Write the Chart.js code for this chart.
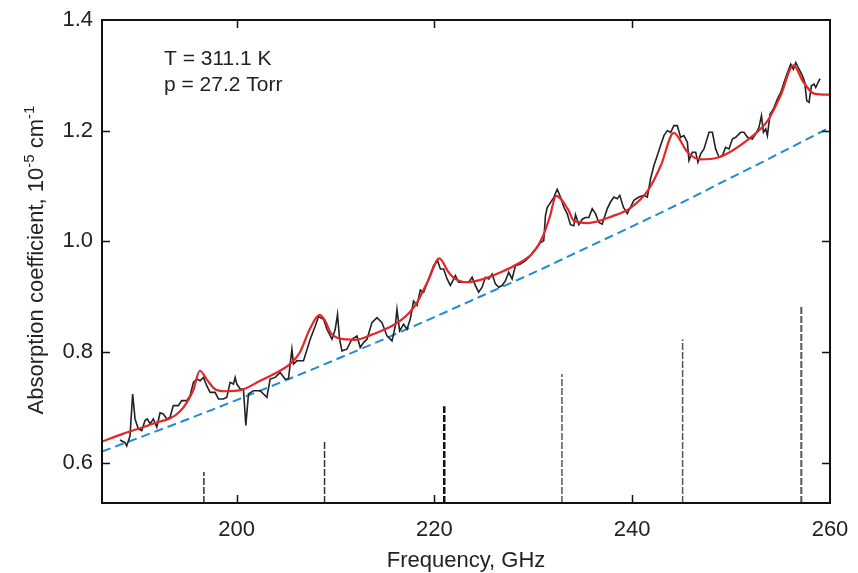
<!DOCTYPE html>
<html>
<head>
<meta charset="utf-8">
<script src="https://cdn.jsdelivr.net/npm/chart.js@4"></script>
<style>
  html, body { margin: 0; padding: 0; background: #fff; }
  #wrap { width: 858px; height: 573px; }
</style>
</head>
<body>
<div id="wrap"><canvas id="chart"></canvas></div>
<script>
// measured spectrum (black)
const measFreq = [188.22,188.73,188.90,189.23,189.50,189.74,190.07,190.42,190.75,190.98,
  191.26,191.59,191.94,192.27,192.60,192.95,193.28,193.61,194.12,194.46,
  194.97,195.30,195.64,195.98,196.32,196.65,196.99,197.33,197.83,198.17,
  198.68,199.02,199.35,199.69,199.86,200.03,200.37,200.70,200.94,201.21,
  201.71,202.39,203.07,203.40,203.91,204.41,204.91,205.25,205.60,205.76,
  206.10,206.77,207.45,207.96,208.29,208.80,209.14,209.65,209.98,210.21,
  210.42,210.66,211.16,211.67,212.18,212.51,212.84,213.19,213.69,214.20,
  214.71,215.21,215.72,216.05,216.22,216.49,216.89,217.24,217.57,217.90,
  218.25,218.58,218.92,219.42,219.93,220.33,220.61,220.94,221.29,221.62,
  222.13,222.46,222.97,223.47,223.82,224.15,224.48,224.83,225.16,225.50,
  225.84,226.17,226.51,226.85,227.19,227.52,227.86,228.20,228.70,229.21,
  229.72,230.05,230.39,230.73,231.06,231.23,231.41,231.74,232.07,232.42,
  232.75,233.09,233.43,233.76,234.10,234.27,234.61,234.95,235.28,235.62,
  235.96,236.29,236.63,236.97,237.48,237.81,238.15,238.49,238.75,239.10,
  239.50,239.84,240.17,240.68,241.18,241.53,241.86,242.20,242.54,242.87,
  243.21,243.55,243.89,244.22,244.56,244.90,245.23,245.58,245.74,246.08,
  246.42,246.65,246.92,247.26,247.77,248.11,248.44,248.78,249.12,249.45,
  249.79,250.13,250.47,250.97,251.30,251.65,252.15,252.49,252.82,253.07,
  253.27,253.50,253.67,253.94,254.18,254.41,254.68,255.02,255.35,255.70,
  256.03,256.30,256.54,256.87,257.22,257.45,257.65,257.88,258.12,258.39,
  258.56,258.79,258.99];
const measAbs = [0.641,0.636,0.630,0.648,0.724,0.679,0.661,0.658,0.676,0.679,
  0.670,0.679,0.664,0.690,0.688,0.679,0.682,0.703,0.703,0.712,
  0.712,0.721,0.745,0.751,0.748,0.754,0.739,0.727,0.727,0.715,
  0.715,0.718,0.745,0.742,0.754,0.742,0.733,0.733,0.667,0.724,
  0.730,0.730,0.718,0.751,0.754,0.763,0.751,0.751,0.805,0.778,
  0.784,0.784,0.823,0.847,0.864,0.859,0.841,0.823,0.841,0.868,
  0.823,0.802,0.805,0.823,0.829,0.808,0.817,0.823,0.853,0.862,
  0.853,0.829,0.820,0.847,0.877,0.838,0.850,0.841,0.860,0.892,
  0.884,0.912,0.908,0.932,0.956,0.965,0.950,0.950,0.932,0.920,
  0.938,0.926,0.926,0.926,0.935,0.920,0.908,0.917,0.935,0.932,
  0.941,0.923,0.917,0.920,0.929,0.944,0.932,0.956,0.959,0.965,
  0.974,0.983,0.989,0.998,1.001,1.046,1.061,1.070,1.079,1.094,
  1.080,1.062,1.050,1.030,1.028,1.048,1.030,1.040,1.043,1.043,
  1.059,1.050,1.034,1.031,1.059,1.071,1.080,1.077,1.083,1.062,
  1.050,1.062,1.074,1.080,1.083,1.080,1.113,1.137,1.155,1.173,
  1.191,1.200,1.197,1.209,1.209,1.188,1.191,1.179,1.146,1.161,
  1.161,1.143,1.158,1.167,1.197,1.197,1.167,1.152,1.155,1.170,
  1.167,1.185,1.188,1.197,1.197,1.188,1.185,1.194,1.206,1.227,
  1.197,1.203,1.191,1.230,1.236,1.245,1.257,1.269,1.287,1.305,
  1.320,1.311,1.323,1.311,1.299,1.287,1.254,1.251,1.281,1.284,
  1.278,1.287,1.294];

// model fit (red)
const fitFreq = [186.4,188.5,191.3,194.3,195.6,196.3,197.0,197.8,198.8,200.4,202.4,204.4,205.4,206.4,207.4,208.4,
  209.0,209.5,210.5,212.0,213.5,216.6,218.1,219.4,220.5,221.4,222.1,223.3,225.0,226.7,228.4,230.0,231.0,231.7,
  232.3,233.5,234.1,235.5,238.1,239.8,241.6,242.9,244.2,245.6,246.9,248.6,252.0,253.7,255.0,256.3,257.3,258.4,260.0];
const fitAbs = [0.638,0.652,0.669,0.693,0.730,0.766,0.750,0.733,0.729,0.731,0.748,0.766,0.778,0.799,0.841,0.867,
  0.855,0.835,0.824,0.822,0.830,0.857,0.885,0.930,0.969,0.945,0.932,0.926,0.932,0.944,0.959,0.980,1.010,1.046,
  1.082,1.058,1.037,1.033,1.046,1.060,1.092,1.137,1.196,1.161,1.148,1.151,1.188,1.218,1.263,1.318,1.288,1.267,1.265];

// continuum (blue dashed)
const contFreq = [186.4,190,195,200,205,210,215,220,225,230,235,240,245,250,255,260];
const contAbs = [0.620,0.644,0.678,0.713,0.749,0.786,0.824,0.863,0.903,0.943,0.985,1.027,1.070,1.115,1.160,1.206];

// line positions (sticks)
const lineFreq = [196.7,208.9,221.0,232.9,245.1,257.1];
const lineTop = [0.583,0.641,0.702,0.760,0.823,0.883];
const lineColor = ['#333','#333','#111','#555','#555','#555'];
const lineWidth = [1.5,1.5,2.5,1.5,1.5,2];

const xTicks = [200,220,240,260];
const yTicks = [0.6,0.8,1.0,1.2,1.4];
const xMin = 186.4, xMax = 260, yMin = 0.527, yMax = 1.4;

const FONT = "'Liberation Sans', Arial, sans-serif";

const toXY = (xs, ys) => xs.map((x, i) => ({ x: x, y: ys[i] }));

const datasets = [];
lineFreq.forEach((f, i) => {
    datasets.push({
        data: [{ x: f, y: yMin }, { x: f, y: lineTop[i] }],
        borderColor: lineColor[i],
        borderWidth: lineWidth[i],
        borderDash: [7, 2],
        pointRadius: 0,
        order: 4
    });
});
datasets.push({
    data: toXY(contFreq, contAbs),
    borderColor: '#1e8bd2',
    borderWidth: 2,
    borderDash: [9, 5],
    pointRadius: 0,
    cubicInterpolationMode: 'monotone',
    order: 3
});
datasets.push({
    data: toXY(measFreq, measAbs),
    borderColor: '#222',
    borderWidth: 1.6,
    pointRadius: 0,
    tension: 0,
    order: 2
});
datasets.push({
    data: toXY(fitFreq, fitAbs),
    borderColor: '#e4262b',
    borderWidth: 2.2,
    pointRadius: 0,
    cubicInterpolationMode: 'monotone',
    order: 1
});

// frame, inward ticks, titles and annotation
const framePlugin = {
    id: 'frame',
    afterDraw(chart) {
        const ctx = chart.ctx;
        const a = chart.chartArea;
        const xs = chart.scales.x, ys = chart.scales.y;
        ctx.save();
        ctx.strokeStyle = '#111';
        ctx.lineWidth = 2;
        ctx.strokeRect(a.left, a.top, a.right - a.left, a.bottom - a.top);
        ctx.lineWidth = 1.5;
        ctx.beginPath();
        xTicks.forEach(v => {
            if (v >= xMax) return;
            const px = Math.round(xs.getPixelForValue(v)) + 0.5;
            ctx.moveTo(px, a.bottom); ctx.lineTo(px, a.bottom - 8);
            ctx.moveTo(px, a.top); ctx.lineTo(px, a.top + 8);
        });
        yTicks.forEach(v => {
            if (v >= yMax) return;
            const py = Math.round(ys.getPixelForValue(v)) + 0.5;
            ctx.moveTo(a.left, py); ctx.lineTo(a.left + 8, py);
            ctx.moveTo(a.right, py); ctx.lineTo(a.right - 8, py);
        });
        ctx.stroke();

        ctx.fillStyle = '#222';
        ctx.font = '21px ' + FONT;
        ctx.textBaseline = 'alphabetic';
        ctx.textAlign = 'left';
        ctx.fillText('T = 311.1 K', 164, 65);
        ctx.fillText('p = 27.2 Torr', 164, 91);

        ctx.font = '22px ' + FONT;
        ctx.textAlign = 'center';
        ctx.fillText('Frequency, GHz', (a.left + a.right) / 2, 567);

        // y title with superscripts
        const parts = [
            ['Absorption coefficient, 10', false],
            ['-5', true],
            [' cm', false],
            ['-1', true]
        ];
        const big = '22px ' + FONT, small = '15px ' + FONT;
        let total = 0;
        parts.forEach(p => { ctx.font = p[1] ? small : big; total += ctx.measureText(p[0]).width; });
        ctx.translate(43, 260);
        ctx.rotate(-Math.PI / 2);
        ctx.textAlign = 'left';
        let cx = -total / 2;
        parts.forEach(p => {
            ctx.font = p[1] ? small : big;
            ctx.fillText(p[0], cx, p[1] ? -9 : 0);
            cx += ctx.measureText(p[0]).width;
        });
        ctx.restore();
    }
};

new Chart(document.getElementById('chart'), {
    type: 'line',
    data: { datasets: datasets },
    options: {
        responsive: true,
        maintainAspectRatio: false,
        animation: false,
        layout: { padding: { left: 0, right: 28, top: 20, bottom: 0 } },
        plugins: { legend: { display: false }, tooltip: { enabled: false } },
        scales: {
            x: {
                type: 'linear',
                min: xMin,
                max: xMax,
                afterBuildTicks: s => { s.ticks = xTicks.map(v => ({ value: v })); },
                afterFit: s => { s.height = 70; s.paddingLeft = 0; s.paddingRight = 0; },
                grid: { display: false, drawTicks: false },
                border: { display: false },
                ticks: {
                    padding: 14,
                    color: '#222',
                    font: { family: FONT, size: 22 },
                    callback: v => String(v)
                }
            },
            y: {
                type: 'linear',
                min: yMin,
                max: yMax,
                afterBuildTicks: s => { s.ticks = yTicks.map(v => ({ value: v })); },
                afterFit: s => { s.width = 102; s.paddingTop = 0; s.paddingBottom = 0; },
                grid: { display: false, drawTicks: false },
                border: { display: false },
                ticks: {
                    padding: 9,
                    color: '#222',
                    font: { family: FONT, size: 22 },
                    callback: v => Number(v).toFixed(1)
                }
            }
        }
    },
    plugins: [framePlugin]
});
</script>
</body>
</html>
